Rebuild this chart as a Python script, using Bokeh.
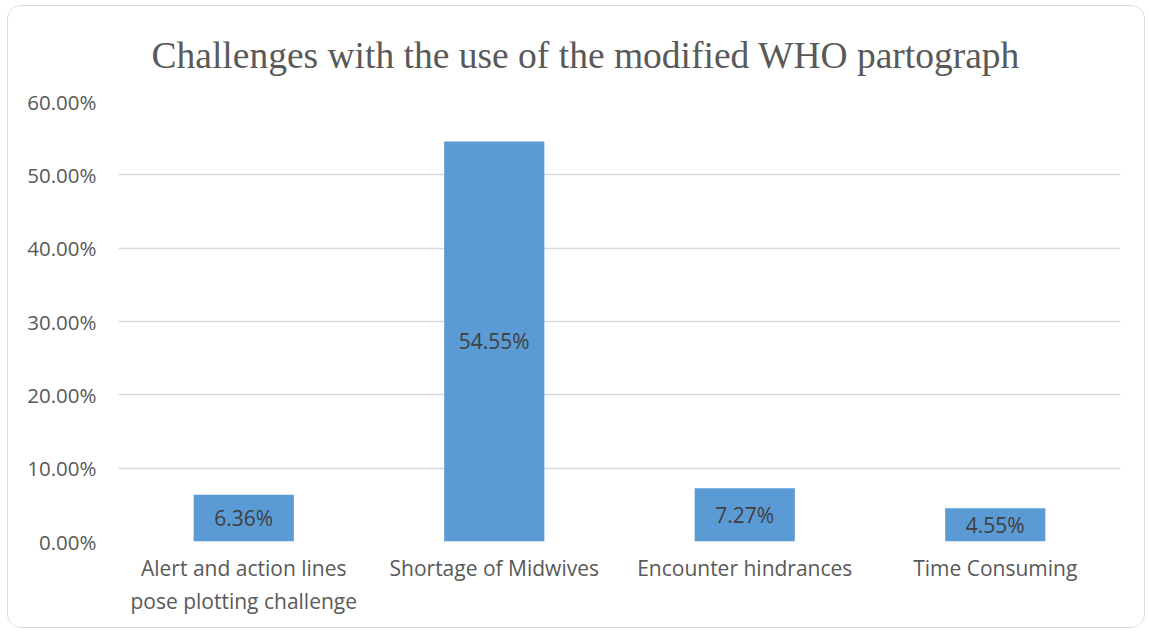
from bokeh.plotting import figure
from bokeh.models import FixedTicker, NumeralTickFormatter, ColumnDataSource, Range1d
from bokeh.core.properties import value
from bokeh.embed import file_html
from bokeh.resources import INLINE

categories = ["Alert and action lines\npose plotting challenge", "Shortage of Midwives",
              "Encounter hindrances", "Time Consuming"]
percentages = [0.0636, 0.5455, 0.0727, 0.0455]
bar_labels = ["6.36%", "54.55%", "7.27%", "4.55%"]
y_ticks = [0.0, 0.1, 0.2, 0.3, 0.4, 0.5, 0.6]
title_text = "Challenges with the use of the modified WHO partograph"

src = ColumnDataSource(dict(cat=categories, val=percentages,
                            mid=[v / 2 for v in percentages], lab=bar_labels))

p = figure(x_range=categories, y_range=Range1d(0, 0.6), width=1138, height=623,
           output_backend="svg", toolbar_location=None,
           min_border_left=110, min_border_right=26, min_border_top=95, min_border_bottom=88,
           background_fill_color="white", border_fill_color="white",
           styles={"margin-left": "7px", "margin-top": "5px", "border": "1px solid #d9d9d9",
                   "border-radius": "14px", "overflow": "hidden"})
p.outline_line_color = None

p.title.text = title_text
p.title.align = "left"
p.title.offset = 33
p.title.standoff = 52
p.title.text_font = "Liberation Serif"
p.title.text_font_size = "37.5px"
p.title.text_font_style = "normal"
p.title.text_color = "#595959"

p.vbar(x="cat", top="val", width=0.4, source=src, fill_color="#5B9BD5", line_color=None)
p.text(x="cat", y="mid", text="lab", source=src, text_align="center", text_baseline="middle",
       text_font=value("Open Sans"), text_font_size="21px", text_color="#404040")

p.yaxis.ticker = FixedTicker(ticks=y_ticks)
p.yaxis.formatter = NumeralTickFormatter(format="0.00%")
p.yaxis.axis_line_color = None
p.yaxis.major_tick_line_color = None
p.yaxis.minor_tick_line_color = None
p.yaxis.major_tick_out = 0
p.yaxis.major_label_standoff = 22
p.yaxis.major_label_text_font = "Open Sans"
p.yaxis.major_label_text_font_size = "20.5px"
p.yaxis.major_label_text_color = "#595959"

p.xaxis.axis_line_color = None
p.xaxis.major_tick_line_color = None
p.xaxis.major_tick_out = 0
p.xaxis.major_label_standoff = 12
p.xaxis.major_label_text_font = "Open Sans"
p.xaxis.major_label_text_font_size = "21px"
p.xaxis.major_label_text_color = "#595959"

p.xgrid.grid_line_color = None
p.ygrid.grid_line_color = "#d9d9d9"
p.ygrid.grid_line_width = 1.5

open("out.html", "w").write(file_html(p, INLINE))
